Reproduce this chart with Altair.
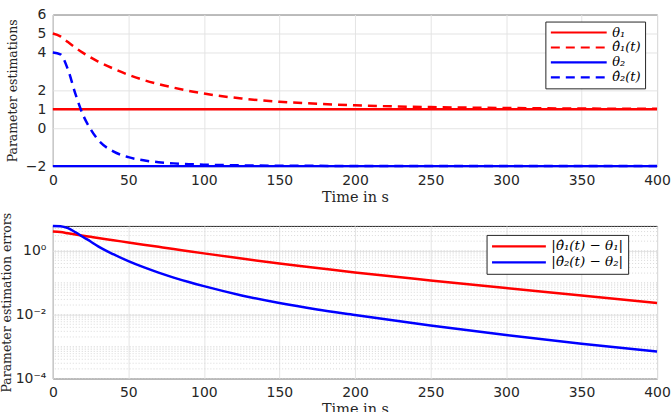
import altair as alt
import pandas as pd

# ---- data ----
t = [0, 5, 10, 15, 20, 25, 30, 40, 50, 60, 70, 80, 90, 100, 125, 150, 175, 200, 250, 300, 350, 400]
err1 = [4.0, 3.85, 3.55, 3.25, 2.98, 2.74, 2.52, 2.15, 1.82, 1.55, 1.33, 1.14, 0.97, 0.83, 0.57, 0.40,
        0.29, 0.21, 0.118, 0.068, 0.040, 0.023]
err2 = [6.0, 5.9, 5.1, 3.8, 2.7, 1.95, 1.38, 0.78, 0.474, 0.306, 0.207, 0.145, 0.105, 0.078, 0.040, 0.023,
        0.0145, 0.0098, 0.0046, 0.0023, 0.00123, 0.0007]
theta1 = 1.0
theta2 = -2.0

top_names = ["θ₁", "θ̂₁(t)", "θ₂", "θ̂₂(t)"]
bot_names = ["|θ̂₁(t) − θ₁|", "|θ̂₂(t) − θ₂|"]
x_ticks = [0, 50, 100, 150, 200, 250, 300, 350, 400]
y_ticks_top = [-2, 0, 1, 2, 4, 5, 6]
y_ticks_bot = [1e-4, 1e-2, 1]
minor_vals = [m * 10.0 ** k for k in range(-4, 1) for m in range(1, 10) if m * 10.0 ** k <= 6]

rows = []
for i, ti in enumerate(t):
    rows.append({"t": ti, "v": theta1, "s": top_names[0]})
    rows.append({"t": ti, "v": theta1 + err1[i], "s": top_names[1]})
    rows.append({"t": ti, "v": theta2, "s": top_names[2]})
    rows.append({"t": ti, "v": theta2 + err2[i], "s": top_names[3]})
top_df = pd.DataFrame(rows)

rows = []
for i, ti in enumerate(t):
    rows.append({"t": ti, "e": err1[i], "s2": bot_names[0]})
    rows.append({"t": ti, "e": err2[i], "s2": bot_names[1]})
bot_df = pd.DataFrame(rows)
minor_df = pd.DataFrame({"m": minor_vals})

RED = "#ff0000"
BLUE = "#0000ff"
SANS = "DejaVu Sans"
SERIF = "DejaVu Serif"
W, H = 606, 152

x_axis = alt.Axis(values=x_ticks, title="Time in s", titleFont=SERIF, titleFontWeight="normal",
                  titleFontSize=14.5, titlePadding=3, labelFlush=False)
x_enc = alt.X("t:Q", scale=alt.Scale(domain=[0, 400], nice=False), axis=x_axis)

top_legend = alt.Legend(title=None, orient="none", legendX=494, legendY=7, symbolType="stroke",
                        symbolSize=3136, symbolStrokeWidth=2.2, labelFont=SERIF, labelFontSize=13,
                        labelFontStyle="italic", strokeColor="#262626", fillColor="white",
                        padding=4, rowPadding=1, clipHeight=14, labelLimit=200, labelOffset=4)

top = alt.Chart(top_df).mark_line(strokeWidth=2.5, interpolate="monotone").encode(
    x=x_enc,
    y=alt.Y("v:Q", scale=alt.Scale(domain=[-2, 6], nice=False),
            axis=alt.Axis(values=y_ticks_top, title="Parameter estimations", titleFont=SERIF,
                          titleFontWeight="normal", titleFontSize=12.5, titleX=-40, titleBaseline="middle")),
    color=alt.Color("s:N", scale=alt.Scale(domain=top_names, range=[RED, RED, BLUE, BLUE]), legend=top_legend),
    strokeDash=alt.StrokeDash("s:N", scale=alt.Scale(domain=top_names, range=[[1, 0], [9, 6], [1, 0], [9, 6]]),
                              legend=top_legend),
    order=alt.Order("t:Q"),
).properties(width=W, height=H)

log_scale = alt.Scale(type="log", domain=[1e-4, 6], nice=False)
y_bot_axis = alt.Axis(values=y_ticks_bot, title="Parameter estimation errors", titleFont=SERIF,
                      titleFontWeight="normal", titleFontSize=12.5, titleX=-46, titleBaseline="middle",
                      labelExpr="datum.value == 1 ? '10⁰' : (datum.value < 0.001 ? '10⁻⁴' : '10⁻²')")

bot_legend = alt.Legend(title=None, orient="none", legendX=435, legendY=9, symbolType="stroke",
                        symbolSize=2916, symbolStrokeWidth=2.2, labelFont=SERIF, labelFontSize=13.5,
                        labelFontStyle="italic", strokeColor="#262626", fillColor="white",
                        padding=4, rowPadding=1, clipHeight=15, labelLimit=200, labelOffset=4)

minor = alt.Chart(minor_df).mark_rule(color="#d0d0d0", strokeDash=[1, 2], strokeWidth=0.8).encode(
    y=alt.Y("m:Q", scale=log_scale, axis=y_bot_axis)
)
bot_lines = alt.Chart(bot_df).mark_line(strokeWidth=2.5, interpolate="monotone").encode(
    x=x_enc,
    y=alt.Y("e:Q", scale=log_scale, axis=y_bot_axis),
    color=alt.Color("s2:N", scale=alt.Scale(domain=bot_names, range=[RED, BLUE]), legend=bot_legend),
    order=alt.Order("t:Q"),
)
bot = alt.layer(minor, bot_lines).properties(width=W, height=H + 1)

chart = alt.vconcat(top, bot, spacing=60, bounds="flush").resolve_scale(
    color="independent", strokeDash="independent"
).properties(
    padding={"left": 0, "top": 6, "right": 0, "bottom": 0}
).configure_view(stroke="#262626", strokeWidth=1).configure_axis(
    labelFont=SANS, labelFontSize=14, labelColor="#262626", ticks=False, labelPadding=7,
    domain=False, gridColor="#e4e4e4", gridWidth=1, titleColor="#262626"
).configure_axisX(labelPadding=7)

chart.save("out.html", embed_options={"renderer": "svg", "actions": False})
